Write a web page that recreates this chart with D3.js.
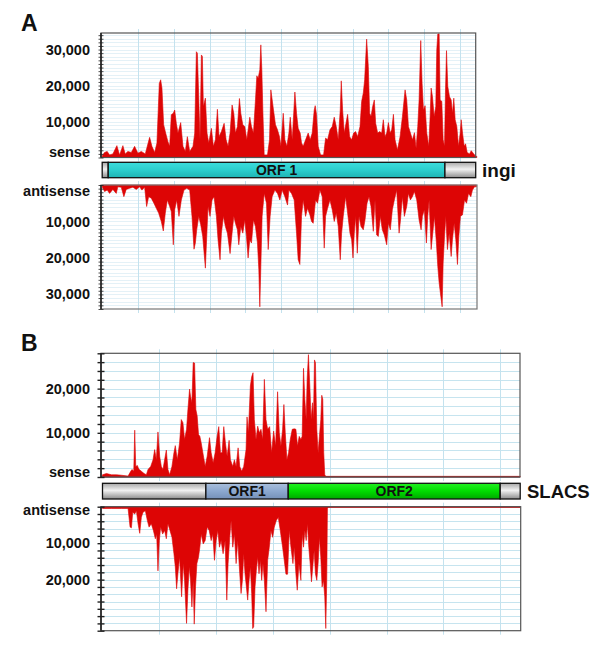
<!DOCTYPE html>
<html><head><meta charset="utf-8">
<script src="https://cdn.jsdelivr.net/npm/d3@7/dist/d3.min.js"></script>
<style>body{margin:0;background:#fff}svg{display:block}</style>
</head><body>
<svg id="c" width="600" height="650"></svg>
<script>
// ---------------- DATA ----------------
// [position in bp, read count]
const ingiSense = [[0,500],[33,1400],[70,1700],[103,700],[149,1000],[205,3300],[243,700],[289,3300],[322,1000],[359,1700],[406,1400],[453,3100],[499,1200],[546,1700],[602,1000],[663,5600],[695,3100],[733,1400],[765,4000],[798,20600],[817,21600],[835,19300],[859,9100],[887,6800],[919,4400],[943,3100],[966,11900],[994,12300],[1013,13200],[1036,9500],[1059,6800],[1097,9700],[1129,3100],[1162,1700],[1190,5800],[1223,1700],[1269,3100],[1293,6800],[1316,29400],[1330,29000],[1349,16900],[1367,4900],[1386,28500],[1400,28100],[1414,14200],[1442,16500],[1465,6800],[1489,4000],[1526,8100],[1554,3100],[1582,4900],[1610,13400],[1633,5800],[1666,7200],[1704,9500],[1732,4900],[1759,3100],[1787,6800],[1815,14600],[1839,12300],[1862,6800],[1890,8600],[1918,16400],[1937,12300],[1965,9100],[1993,8600],[2021,4900],[2063,11200],[2086,8600],[2114,6800],[2142,16000],[2161,22700],[2180,22000],[2203,24400],[2217,31300],[2231,24400],[2245,13200],[2264,700],[2310,700],[2338,4900],[2357,18800],[2376,16000],[2394,13200],[2422,9100],[2450,7700],[2478,5800],[2497,3100],[2530,12300],[2553,4900],[2581,3100],[2609,6800],[2628,11200],[2656,4900],[2679,13200],[2693,18200],[2716,12300],[2739,8100],[2767,6800],[2786,4000],[2809,3100],[2842,4900],[2879,6800],[2907,4900],[2935,6800],[2963,13200],[2977,14400],[2996,11900],[3019,3100],[3052,700],[3094,700],[3122,5400],[3150,4900],[3183,7700],[3215,8600],[3243,11200],[3271,8600],[3299,4900],[3327,13200],[3341,21300],[3360,13200],[3383,6800],[3407,9500],[3430,12000],[3458,5800],[3486,4900],[3514,6800],[3542,7200],[3570,5800],[3603,8600],[3626,15600],[3649,17900],[3668,21600],[3696,32900],[3719,25300],[3738,12300],[3757,11400],[3780,14200],[3803,16000],[3822,9500],[3850,6800],[3878,7200],[3906,6800],[3929,10500],[3953,5800],[3976,6800],[4000,9700],[4023,6800],[4046,7700],[4070,12000],[4093,4900],[4126,2100],[4163,5800],[4196,11400],[4219,16000],[4233,18800],[4256,16000],[4280,8600],[4308,6800],[4336,4900],[4364,6900],[4387,2600],[4410,8600],[4429,16000],[4452,32500],[4471,20600],[4490,13200],[4513,14400],[4536,6800],[4564,3100],[4583,11400],[4597,19300],[4616,16900],[4639,11400],[4662,14200],[4676,29900],[4690,34300],[4709,34400],[4723,16000],[4746,15600],[4765,4900],[4784,3100],[4798,18800],[4812,29700],[4830,19700],[4854,16900],[4877,16000],[4896,12300],[4914,16500],[4933,10500],[4956,8600],[4980,3100],[5003,6800],[5017,10500],[5036,6800],[5059,3100],[5078,3800],[5101,1400],[5134,1000],[5157,1900],[5185,1200],[5213,500],[5236,300]];

const ingiAntisense = [[0,500],[33,1800],[70,1400],[103,2300],[149,1200],[196,2300],[219,500],[266,600],[303,3200],[336,1200],[383,900],[429,600],[476,1200],[523,500],[555,1400],[593,600],[621,5900],[649,3200],[686,3600],[723,5000],[756,6400],[789,7700],[826,10000],[854,12600],[882,7700],[910,4100],[943,5900],[966,7300],[994,16400],[1013,6800],[1041,4100],[1073,8600],[1106,4100],[1143,1400],[1181,900],[1223,1400],[1255,8600],[1283,17600],[1302,15900],[1321,12300],[1349,8600],[1377,10900],[1405,14100],[1442,22800],[1461,14100],[1479,5900],[1507,8600],[1535,4100],[1563,3200],[1596,8600],[1619,15000],[1647,20500],[1666,13200],[1694,8600],[1722,11400],[1750,13200],[1787,18800],[1815,13200],[1839,8600],[1862,10500],[1890,12300],[1909,16400],[1937,11400],[1965,13200],[1993,9600],[2016,14100],[2039,20000],[2063,15000],[2086,15900],[2114,9600],[2142,11400],[2170,15900],[2189,23200],[2203,33400],[2217,22300],[2235,8600],[2264,2300],[2296,5000],[2320,17700],[2347,8600],[2375,3200],[2413,1400],[2450,2300],[2483,4100],[2515,1400],[2553,3200],[2590,5500],[2609,1400],[2646,2300],[2683,4100],[2716,13200],[2739,20500],[2763,21800],[2786,8600],[2809,4100],[2842,8600],[2870,6400],[2903,8200],[2926,10000],[2949,10500],[2982,4100],[3010,5000],[3043,1400],[3075,3200],[3103,17300],[3122,8600],[3150,6400],[3183,4100],[3215,6800],[3243,10000],[3271,7700],[3299,11400],[3327,20500],[3346,13200],[3369,8600],[3402,3200],[3430,7700],[3463,13200],[3486,15000],[3505,20000],[3523,13200],[3542,8600],[3565,18700],[3589,8600],[3617,11400],[3649,12300],[3673,9600],[3701,5000],[3729,3200],[3757,5900],[3789,12700],[3813,4100],[3836,13700],[3859,14100],[3887,8600],[3915,12300],[3943,13700],[3976,16400],[3999,10500],[4027,12300],[4055,6800],[4083,4100],[4116,1400],[4149,13200],[4167,10000],[4195,3200],[4223,8600],[4256,5900],[4279,2300],[4307,4100],[4335,3200],[4363,1800],[4396,4100],[4429,9600],[4457,12300],[4475,8600],[4503,6800],[4531,15900],[4550,8600],[4569,4100],[4597,17700],[4620,13200],[4643,8600],[4671,15900],[4690,22300],[4709,26800],[4732,30500],[4751,33400],[4765,21400],[4784,14100],[4802,8600],[4825,17700],[4849,13200],[4877,19600],[4895,15000],[4919,10500],[4942,15000],[4965,21800],[4984,14100],[5007,8600],[5035,8200],[5064,4100],[5092,5000],[5120,2300],[5152,3200],[5175,1400],[5203,500],[5231,500]];

const slacsSense = [[0,500],[70,800],[158,500],[246,500],[333,400],[450,200],[497,1300],[520,1700],[550,1300],[567,10600],[585,2400],[614,2600],[637,1800],[684,1300],[731,800],[772,500],[801,1700],[848,2400],[889,3900],[918,6200],[947,3900],[976,10200],[1006,4700],[1035,2400],[1064,1700],[1093,3900],[1123,6100],[1152,1700],[1181,500],[1222,2400],[1257,5500],[1281,7100],[1316,3900],[1356,7700],[1386,13000],[1415,12300],[1444,8500],[1479,10800],[1503,15300],[1532,19900],[1549,18300],[1573,16800],[1596,25900],[1620,25800],[1643,15300],[1666,13800],[1690,9600],[1713,9200],[1737,7700],[1766,5500],[1807,2400],[1842,4700],[1883,8900],[1912,5500],[1947,3200],[1982,5500],[2017,9200],[2046,11400],[2076,5500],[2105,5500],[2134,11400],[2163,7700],[2193,4700],[2228,8300],[2251,3900],[2292,2400],[2321,3900],[2351,2400],[2386,6600],[2415,2400],[2450,1300],[2485,2400],[2526,6200],[2543,13600],[2567,10000],[2602,20600],[2625,22700],[2649,23600],[2672,13000],[2701,8500],[2731,11500],[2760,10000],[2789,10800],[2818,8500],[2848,22100],[2877,13000],[2906,10800],[2941,11400],[2976,5500],[3011,10400],[3046,7000],[3081,19300],[3111,10000],[3140,7000],[3169,10800],[3192,16400],[3216,10000],[3245,3900],[3274,5500],[3304,8500],[3339,10800],[3374,10900],[3403,10800],[3432,7000],[3461,9200],[3491,8500],[3513,9200],[3537,24600],[3560,17600],[3584,13000],[3601,22100],[3624,27700],[3648,20600],[3671,13000],[3695,16800],[3712,13000],[3730,26500],[3747,25900],[3771,10800],[3794,5500],[3817,9200],[3841,13000],[3858,18500],[3876,17600],[3893,5500],[3911,500],[3929,150],[7350,150]];

const slacsAntisense = [[0,500],[158,500],[333,500],[450,500],[485,5600],[509,5800],[532,1500],[567,2000],[596,1100],[626,4700],[655,7300],[684,2900],[713,1500],[754,1100],[789,3800],[819,5600],[859,4700],[895,6500],[930,8800],[953,7500],[976,17600],[1000,9300],[1023,5600],[1058,7500],[1093,6500],[1123,8800],[1152,4700],[1187,6500],[1222,8400],[1257,12900],[1281,16500],[1304,22500],[1327,18400],[1356,13800],[1392,24700],[1421,15600],[1444,20200],[1479,32000],[1503,22900],[1526,16500],[1549,20200],[1573,27500],[1596,20200],[1614,32200],[1637,22000],[1661,15600],[1690,13800],[1713,11100],[1737,7500],[1772,10200],[1807,9300],[1842,5600],[1877,6500],[1912,9300],[1941,7500],[1970,14700],[2000,9300],[2029,6500],[2058,11100],[2087,9300],[2122,12900],[2158,9300],[2187,25600],[2210,15600],[2239,8400],[2263,3800],[2292,11100],[2321,7500],[2351,15600],[2380,9300],[2415,18400],[2438,23800],[2462,20200],[2485,12900],[2508,18400],[2532,22000],[2555,25600],[2579,20200],[2602,16500],[2625,23800],[2643,33400],[2660,32900],[2684,22000],[2707,17500],[2731,13800],[2754,18400],[2777,14700],[2801,20200],[2824,15600],[2848,20200],[2877,28800],[2906,14700],[2935,11100],[2964,6500],[2994,8400],[3023,5600],[3058,3800],[3093,2900],[3128,6500],[3169,11100],[3198,14700],[3228,18500],[3257,18500],[3286,6500],[3316,11100],[3351,15600],[3374,11100],[3403,18400],[3427,22900],[3456,15600],[3491,20200],[3513,7500],[3537,11100],[3560,6500],[3584,9300],[3607,4700],[3630,11100],[3654,15600],[3677,20600],[3700,16500],[3724,12000],[3747,18400],[3771,20200],[3794,15600],[3817,8400],[3841,13800],[3864,22000],[3888,20200],[3911,24700],[3929,33400],[3946,20200],[3958,500],[3975,200],[7350,200]];

// axis tick labels
const ingiSenseTicks = [10000, 20000, 30000];
const ingiAntiTicks = [10000, 20000, 30000];
const slacsSenseTicks = [10000, 20000];
const slacsAntiTicks = [10000, 20000];

// genome maps: [start bp, end bp, kind, label]
const ingiMap = [[0, 84, "utr", ""], [84, 4790, "orfTeal", "ORF 1"], [4790, 5220, "utr", ""]];
const slacsMap = [[0, 1819, "utr", ""], [1819, 3268, "orfBlue", "ORF1"], [3268, 6998, "orfGreen", "ORF2"], [6998, 7350, "utr", ""]];

// ---------------- DRAWING ----------------
const FONT = "'Liberation Sans', Arial, Helvetica, sans-serif";
const RED = "#dd0505";
const svg = d3.select("#c");
const defs = svg.append("defs");

function grad(id, stops) {
  const g = defs.append("linearGradient").attr("id", id).attr("x1", 0).attr("y1", 0).attr("x2", 0).attr("y2", 1);
  stops.forEach(s => g.append("stop").attr("offset", s[0]).attr("stop-color", s[1]));
}
grad("utr", [[0, "#a8a8a8"], [0.45, "#f2f2f2"], [1, "#8c8c8c"]]);
grad("orfTeal", [[0, "#3cdcdc"], [0.5, "#2ccece"], [1, "#1fb4b4"]]);
grad("orfBlue", [[0, "#a9bfdc"], [0.5, "#8ca8cf"], [1, "#7590b8"]]);
grad("orfGreen", [[0, "#22f022"], [0.5, "#00dd00"], [1, "#00a800"]]);

const xA = d3.scaleLinear().domain([0, 5220]).range([102.2, 475.7]);
const xB = d3.scaleLinear().domain([0, 7350]).range([102.5, 520.2]);

function plot(o) {
  const x = o.x;
  const y = d3.scaleLinear().domain([0, o.max]).range(o.flip ? [o.top, o.bottom] : [o.bottom, o.top]);
  const g = svg.append("g");
  const left = o.left, right = o.right;
  // horizontal grid
  g.selectAll(null).data(d3.range(o.hStep, o.max, o.hStep)).join("line")
    .attr("x1", left).attr("x2", right)
    .attr("y1", d => Math.round(y(d)) + 0.5).attr("y2", d => Math.round(y(d)) + 0.5)
    .attr("stroke", o.hColor).attr("stroke-width", 1);
  // vertical grid
  g.selectAll(null).data(d3.range(o.vStep, x.domain()[1], o.vStep)).join("line")
    .attr("x1", d => Math.round(x(d)) + 0.5).attr("x2", d => Math.round(x(d)) + 0.5)
    .attr("y1", o.top - 4).attr("y2", o.bottom + 4)
    .attr("stroke", "#c4e2ee").attr("stroke-width", 1);
  // baseline
  if (o.baseColor) {
    g.append("line").attr("x1", left).attr("x2", right).attr("y1", y(0)).attr("y2", y(0))
      .attr("stroke", o.baseColor).attr("stroke-width", 1.5);
  }
  // coverage
  const area = d3.area().x(d => x(d[0])).y0(y(0)).y1(d => y(d[1]));
  g.append("path").datum(o.data).attr("d", area).attr("fill", RED).attr("stroke", RED).attr("stroke-width", 0.6);
  // frame
  g.append("rect").attr("x", left).attr("y", o.top).attr("width", right - left).attr("height", o.bottom - o.top)
    .attr("fill", "none").attr("stroke", o.frame || "#666").attr("stroke-width", 1.2);
  // left axis with crossing ticks
  const ax = d3.axisLeft(y).tickValues(d3.range(0, o.max + 1, o.tickStep)).tickSize(o.tickLen).tickFormat("");
  const ag = g.append("g").attr("transform", `translate(${left + o.tickLen / 2},0)`).call(ax);
  ag.select(".domain").remove();
  ag.selectAll(".tick line").attr("stroke", "#222").attr("stroke-width", o.tickW);
  g.append("line").attr("x1", left).attr("x2", left).attr("y1", o.top).attr("y2", o.bottom)
    .attr("stroke", "#222").attr("stroke-width", 1.6);
  // tick labels
  g.selectAll(null).data(o.ticks).join("text")
    .attr("x", 90).attr("y", d => y(d)).attr("dy", "0.35em")
    .attr("text-anchor", "end").attr("font-family", FONT).attr("font-weight", "bold").attr("font-size", 14.5)
    .attr("fill", "#111").text(d3.format(","));
  g.append("text").attr("x", 90).attr("y", o.zeroLabelY).attr("dy", "0.35em")
    .attr("text-anchor", "end").attr("font-family", FONT).attr("font-weight", "bold").attr("font-size", 14.5)
    .attr("fill", "#111").text(o.zeroLabel);
}

function genomeMap(x, map, top, h, name, nameX, nameSize) {
  const g = svg.append("g");
  g.selectAll(null).data(map).join("rect")
    .attr("x", d => x(d[0])).attr("y", top).attr("width", d => x(d[1]) - x(d[0])).attr("height", h)
    .attr("fill", d => `url(#${d[2]})`).attr("stroke", "#111").attr("stroke-width", 1.3);
  g.selectAll(null).data(map.filter(d => d[3])).join("text")
    .attr("x", d => (x(d[0]) + x(d[1])) / 2).attr("y", top + h / 2).attr("dy", "0.36em")
    .attr("text-anchor", "middle").attr("font-family", FONT).attr("font-weight", "bold").attr("font-size", 14)
    .attr("fill", "#111").text(d => d[3]);
  g.append("text").attr("x", nameX).attr("y", top + h / 2).attr("dy", "0.36em")
    .attr("font-family", FONT).attr("font-weight", "bold").attr("font-size", nameSize)
    .attr("fill", "#111").text(name);
}

// Panel letters
svg.append("text").attr("x", 21).attr("y", 31).attr("font-family", FONT).attr("font-weight", "bold")
  .attr("font-size", 23).attr("fill", "#111").text("A");
svg.append("text").attr("x", 21).attr("y", 351).attr("font-family", FONT).attr("font-weight", "bold")
  .attr("font-size", 23).attr("fill", "#111").text("B");

// Panel A
plot({x: xA, data: ingiSense, max: 34600, top: 33, bottom: 157.5, left: 101, right: 475.7, flip: false,
  hStep: 1000, hColor: "#e4f1f7", vStep: 500, tickStep: 1000, tickLen: 5, tickW: 0.8,
  ticks: ingiSenseTicks, zeroLabel: "sense", zeroLabelY: 151.5, frame: "#555"});
genomeMap(xA, ingiMap, 162.3, 15.4, "ingi", 482, 19);
plot({x: xA, data: ingiAntisense, max: 34000, top: 185, bottom: 309, left: 101, right: 477, flip: true,
  hStep: 1000, hColor: "#e4f1f7", vStep: 500, tickStep: 1000, tickLen: 5, tickW: 0.8,
  ticks: ingiAntiTicks, zeroLabel: "antisense", zeroLabelY: 190.5, frame: "#777"});

// Panel B
plot({x: xB, data: slacsSense, max: 28000, top: 353.3, bottom: 477, left: 101, right: 520, flip: false,
  hStep: 2000, hColor: "#c6e4ef", vStep: 1000, tickStep: 2000, tickLen: 7, tickW: 1.4,
  ticks: slacsSenseTicks, zeroLabel: "sense", zeroLabelY: 471.5, frame: "#555", baseColor: "#4f9aa8"});
genomeMap(xB, slacsMap, 483.3, 15.7, "SLACS", 527, 18.5);
plot({x: xB, data: slacsAntisense, max: 34000, top: 506.7, bottom: 630.7, left: 101, right: 520.7, flip: true,
  hStep: 2000, hColor: "#c6e4ef", vStep: 1000, tickStep: 2000, tickLen: 7, tickW: 1.4,
  ticks: slacsAntiTicks, zeroLabel: "antisense", zeroLabelY: 509.5, frame: "#555", baseColor: "#6aa6b4"});
</script>
</body></html>
